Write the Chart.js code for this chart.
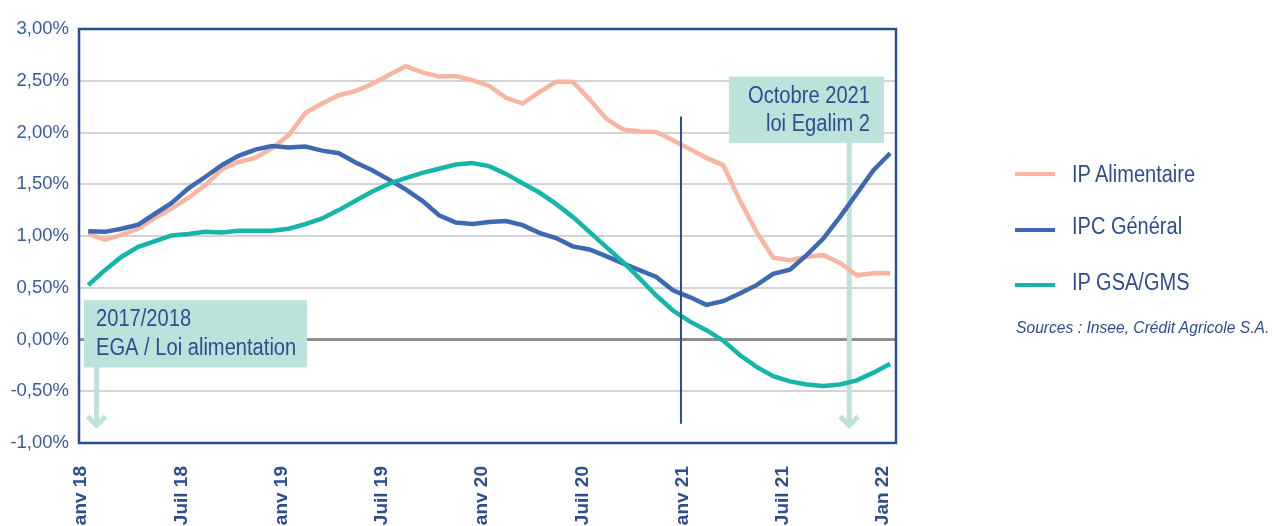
<!DOCTYPE html>
<html>
<head>
<meta charset="utf-8">
<script src="https://cdn.jsdelivr.net/npm/chart.js@4.4.1/dist/chart.umd.min.js"></script>
<style>
  html, body { margin: 0; padding: 0; background: #fff; }
  #wrap { position: relative; width: 1272px; height: 526px; overflow: hidden; }
  canvas { position: absolute; left: 0; top: 0; }
  .leg { position: absolute; left: 1015px; width: 40px; height: 4px; }
  .legtxt { position: absolute; left: 1072px; font: 23px "Liberation Sans", sans-serif; color: #2e4d8e; line-height: 26px; white-space: nowrap; transform: scaleX(0.87); transform-origin: left center; }
  .src { position: absolute; left: 1016px; top: 318px; font: italic 17px "Liberation Sans", sans-serif; color: #2e4d8e; white-space: nowrap; transform: scaleX(0.92); transform-origin: left center; }
</style>
</head>
<body>
<div id="wrap">
  <canvas id="chart" width="1272" height="526"></canvas>
  <div class="leg" style="top:172px;background:#f8b5a1"></div>
  <div class="legtxt" style="top:161px">IP Alimentaire</div>
  <div class="leg" style="top:228px;background:#3d69b2"></div>
  <div class="legtxt" style="top:213px">IPC Général</div>
  <div class="leg" style="top:283px;background:#16b5a9"></div>
  <div class="legtxt" style="top:269px">IP GSA/GMS</div>
  <div class="src">Sources : Insee, Crédit Agricole S.A.</div>
</div>
<script>
// monthly, Janv 18 -> Jan 22 (49 points), in %
const tickLabels = ["Janv 18", "Juil 18", "Janv 19", "Juil 19", "Janv 20", "Juil 20", "Janv 21", "Juil 21", "Jan 22"];

const ipAlimentaire = [
  1.02, 0.965, 1.01, 1.07, 1.175, 1.265, 1.37, 1.49, 1.645, 1.715, 1.755, 1.85,
  1.975, 2.19, 2.28, 2.36, 2.40, 2.47, 2.555, 2.64, 2.58, 2.54, 2.545, 2.505,
  2.45, 2.335, 2.28, 2.39, 2.49, 2.49, 2.32, 2.135, 2.03, 2.01, 2.005, 1.925,
  1.84, 1.755, 1.685, 1.345, 1.04, 0.79, 0.765, 0.80, 0.815, 0.74, 0.62, 0.64,
  0.64
];
const ipcGeneral = [
  1.045, 1.04, 1.07, 1.11, 1.215, 1.32, 1.46, 1.57, 1.685, 1.775, 1.835, 1.87,
  1.855, 1.865, 1.825, 1.80, 1.71, 1.635, 1.545, 1.45, 1.34, 1.20, 1.13, 1.115,
  1.135, 1.145, 1.105, 1.03, 0.98, 0.90, 0.87, 0.805, 0.735, 0.67, 0.605, 0.475,
  0.41, 0.335, 0.37, 0.445, 0.525, 0.635, 0.675, 0.815, 0.975, 1.185, 1.41, 1.635,
  1.80
];
const ipGsaGms = [
  0.525, 0.67, 0.80, 0.895, 0.95, 1.005, 1.02, 1.04, 1.035, 1.05, 1.05, 1.05,
  1.07, 1.115, 1.17, 1.25, 1.34, 1.43, 1.505, 1.56, 1.61, 1.65, 1.69, 1.705,
  1.675, 1.60, 1.51, 1.42, 1.31, 1.185, 1.04, 0.895, 0.75, 0.59, 0.425, 0.28,
  0.175, 0.09, -0.01, -0.15, -0.265, -0.355, -0.405, -0.435, -0.45, -0.435, -0.395, -0.32,
  -0.235
];

const NAVY = "#2e4d8e";
const MINT = "#bde2db";
const FONT = '"Liberation Sans", sans-serif';

const toPoints = (arr) => arr.map((v, i) => ({ x: i, y: v }));

// condensed-looking text: squeeze horizontally
function narrowText(ctx, text, x, y, align) {
  ctx.save();
  ctx.translate(x, y);
  ctx.scale(0.875, 1);
  ctx.textAlign = align;
  ctx.fillText(text, 0, 0);
  ctx.restore();
}

// frame, annotation boxes and arrows
const annotations = {
  id: "annotations",
  beforeDatasetsDraw(chart) {
    const { ctx, chartArea: a, scales: { x, y } } = chart;
    ctx.save();

    // frame
    ctx.strokeStyle = NAVY;
    ctx.lineWidth = 2.5;
    ctx.strokeRect(a.left, a.top, a.right - a.left, a.bottom - a.top);

    const arrow = (xv, y0, y1) => {
      const px = x.getPixelForValue(xv);
      const top = y.getPixelForValue(y0);
      const tip = y.getPixelForValue(y1);
      ctx.strokeStyle = MINT;
      ctx.lineWidth = 5;
      ctx.beginPath();
      ctx.moveTo(px, top);
      ctx.lineTo(px, tip - 2);
      ctx.stroke();
      ctx.lineJoin = "miter";
      ctx.beginPath();
      ctx.moveTo(px - 9, tip - 9);
      ctx.lineTo(px, tip);
      ctx.lineTo(px + 9, tip - 9);
      ctx.stroke();
    };

    const box = (x0, x1, y0, y1) => {
      const l = x.getPixelForValue(x0), r = x.getPixelForValue(x1);
      const t = y.getPixelForValue(y1), b = y.getPixelForValue(y0);
      ctx.fillStyle = MINT;
      ctx.fillRect(l, t, r - l, b - t);
      return { l, r, t, b };
    };

    arrow(0.5, -0.2, -0.83);
    arrow(45.55, 2.0, -0.83);

    const b1 = box(-0.25, 13.1, -0.27, 0.38);
    const b2 = box(38.35, 47.63, 1.9, 2.54);

    ctx.font = "23px " + FONT;
    ctx.fillStyle = NAVY;
    ctx.textBaseline = "middle";
    narrowText(ctx, "2017/2018", b1.l + 12, b1.t + 19, "left");
    narrowText(ctx, "EGA / Loi alimentation", b1.l + 12, b1.t + 48, "left");
    narrowText(ctx, "Octobre 2021", b2.r - 14, b2.t + 20, "right");
    narrowText(ctx, "loi Egalim 2", b2.r - 14, b2.t + 48, "right");

    ctx.restore();
  },
  afterDatasetsDraw(chart) {
    const { ctx, scales: { x, y } } = chart;
    const px = x.getPixelForValue(35.48);
    ctx.save();
    ctx.strokeStyle = NAVY;
    ctx.lineWidth = 2;
    ctx.beginPath();
    ctx.moveTo(px, y.getPixelForValue(2.155));
    ctx.lineTo(px, y.getPixelForValue(-0.815));
    ctx.stroke();
    ctx.restore();
  }
};

const line = (label, data, color, order) => ({
  label,
  data: toPoints(data),
  borderColor: color,
  backgroundColor: color,
  borderWidth: 4.5,
  pointRadius: 0,
  tension: 0,
  order,
});

new Chart(document.getElementById("chart"), {
  type: "line",
  data: {
    datasets: [
      line("IP Alimentaire", ipAlimentaire, "#f8b5a1", 2),
      line("IPC Général", ipcGeneral, "#3d69b2", 1),
      line("IP GSA/GMS", ipGsaGms, "#16b5a9", 0),
    ],
  },
  options: {
    responsive: false,
    animation: false,
    devicePixelRatio: 1,
    layout: { padding: { left: 0, right: 376, top: 29, bottom: 0 } },
    plugins: { legend: { display: false }, tooltip: { enabled: false } },
    scales: {
      x: {
        type: "linear",
        min: -0.55,
        max: 48.35,
        afterBuildTicks: (s) => { s.ticks = tickLabels.map((_, i) => ({ value: i * 6 })); },
        afterFit: (s) => { s.height = 83; },
        grid: { display: false },
        border: { display: false },
        ticks: {
          autoSkip: false,
          minRotation: 90,
          maxRotation: 90,
          padding: 15,
          labelOffset: -7,
          color: NAVY,
          font: { family: FONT, size: 19, weight: "bold" },
          callback: (v) => tickLabels[v / 6],
        },
      },
      y: {
        min: -1,
        max: 3,
        afterBuildTicks: (s) => {
          const t = [];
          for (let k = 0; k <= 8; k++) t.push({ value: -1 + k * 0.5 });
          s.ticks = t;
        },
        afterFit: (s) => { s.width = 79; },
        border: { display: false },
        grid: {
          drawTicks: false,
          color: (c) => (c.tick && c.tick.value === 0 ? "#8e8e8e" : "#d4d4d4"),
          lineWidth: (c) => (c.tick && c.tick.value === 0 ? 3 : 2),
        },
        ticks: {
          padding: 10,
          color: "#3a5a9e",
          font: { family: FONT, size: 18.5 },
          callback: (v) => v.toFixed(2).replace(".", ",") + "%",
        },
      },
    },
  },
  plugins: [annotations],
});
</script>
</body>
</html>
